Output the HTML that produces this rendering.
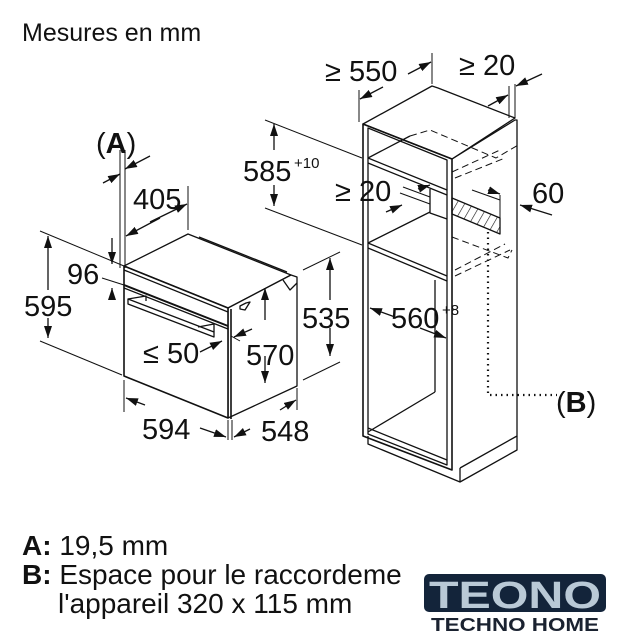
<!DOCTYPE html>
<html><head><meta charset="utf-8"><style>
html,body{margin:0;padding:0;background:#fff;}
svg{display:block;}
text{font-family:"Liberation Sans",Arial,sans-serif;fill:#111;}
</style></head><body>
<svg width="618" height="640" viewBox="0 0 618 640" xmlns="http://www.w3.org/2000/svg">
<defs>
<marker id="a" viewBox="0 0 12 8" refX="12" refY="4" markerWidth="12" markerHeight="8" markerUnits="userSpaceOnUse" orient="auto"><path d="M0,0 L12,4 L0,8 z" fill="#111"/></marker>
<pattern id="h" width="7" height="7" patternUnits="userSpaceOnUse" patternTransform="rotate(30)"><line x1="0" y1="0" x2="0" y2="7" stroke="#111" stroke-width="1.2"/></pattern>
</defs>
<text x="22" y="41" font-size="25">Mesures en mm</text>

<g stroke="#111" fill="none" stroke-width="1.3" stroke-linejoin="round">
<!-- OVEN -->
<path d="M124,266 L188,234 L291,275 L228,308 Z" fill="#fff"/>
<line x1="199" y1="237" x2="287" y2="272"/>
<path d="M228,308 L291,275 L297,277 L297,386 L228,418 Z" fill="#fff"/>
<path d="M283,280 L290,290 L297,283"/>
<path d="M124,266 L228,308 L228,418 L124,376 Z" fill="#fff" stroke-width="1.6"/>
<line x1="231" y1="309" x2="231" y2="419" stroke-width="1.6"/>
<line x1="124" y1="270" x2="228" y2="312"/>
<line x1="124" y1="285" x2="228" y2="326" stroke-width="2"/>
<line x1="124" y1="288" x2="228" y2="329"/>
<path d="M128,299 L214,332 L214,337 L128,304 Z" stroke-width="1.3"/>
<path d="M128,299 L146,296 L146,301"/>
<path d="M198,327 L214,324 L214,332"/>
<path d="M240,306 L246,303 L250,302 L245,310 L240,309 Z"/>

<!-- oven dims -->
<line x1="120" y1="150" x2="120" y2="268" stroke-width="1"/>
<line x1="125" y1="150" x2="125" y2="268" stroke-width="1"/>
<line x1="103" y1="183" x2="120" y2="174" marker-end="url(#a)"/>
<line x1="150" y1="156" x2="125" y2="169" marker-end="url(#a)"/>
<line x1="188" y1="186" x2="188" y2="230" stroke-width="1"/>
<line x1="150" y1="222" x2="187" y2="204" marker-end="url(#a)"/>
<line x1="160" y1="218" x2="126" y2="236" marker-end="url(#a)"/>
<line x1="112" y1="238" x2="112" y2="264" marker-end="url(#a)"/>
<line x1="112" y1="298" x2="112" y2="288" marker-end="url(#a)"/>
<line x1="40" y1="231" x2="124" y2="266" stroke-width="1"/>
<line x1="102" y1="278" x2="124" y2="285" stroke-width="1"/>
<line x1="40" y1="341" x2="122" y2="375" stroke-width="1"/>
<line x1="48" y1="290" x2="48" y2="236" marker-end="url(#a)"/>
<line x1="48" y1="318" x2="48" y2="338" marker-end="url(#a)"/>
<line x1="124" y1="380" x2="124" y2="412" stroke-width="1"/>
<line x1="228" y1="420" x2="228" y2="440" stroke-width="1"/>
<line x1="232" y1="420" x2="232" y2="440" stroke-width="1"/>
<line x1="297" y1="388" x2="297" y2="410" stroke-width="1"/>
<line x1="145" y1="405" x2="126" y2="398" marker-end="url(#a)"/>
<line x1="200" y1="428" x2="226" y2="437" marker-end="url(#a)"/>
<line x1="250" y1="429" x2="234" y2="437" marker-end="url(#a)"/>
<line x1="280" y1="410" x2="296" y2="400" marker-end="url(#a)"/>
<line x1="200" y1="352" x2="222" y2="341" marker-end="url(#a)"/>
<line x1="252" y1="329" x2="234" y2="337" marker-end="url(#a)"/>
<line x1="231" y1="336" x2="240" y2="341" stroke-width="1"/>
<line x1="265" y1="320" x2="265" y2="288" marker-end="url(#a)"/>
<line x1="265" y1="356" x2="265" y2="383" marker-end="url(#a)"/>
<line x1="303" y1="270" x2="340" y2="252" stroke-width="1"/>
<line x1="303" y1="380" x2="340" y2="362" stroke-width="1"/>
<line x1="330" y1="300" x2="330" y2="258" marker-end="url(#a)"/>
<line x1="330" y1="328" x2="330" y2="356" marker-end="url(#a)"/>

<!-- 585 dims -->
<line x1="265" y1="120" x2="362" y2="158" stroke-width="1"/>
<line x1="265" y1="208" x2="362" y2="245" stroke-width="1"/>
<line x1="274" y1="150" x2="274" y2="124" marker-end="url(#a)"/>
<line x1="274" y1="185" x2="274" y2="206" marker-end="url(#a)"/>

<!-- CABINET -->
<path d="M363,124 L432,86 L438,88 L515,118 L452,159 Z" fill="#fff"/>
<path d="M452,159 L515,120 L517,120 L517,436 L460,468"/>
<path d="M363,124 L452,159 L452,470 L363,436 Z" stroke-width="1.6"/>
<path d="M368,128 L447,160 L447,465 L368,434 Z"/>
<line x1="368" y1="158" x2="447" y2="190"/>
<line x1="368" y1="163" x2="447" y2="195"/>
<line x1="368" y1="158" x2="410" y2="136"/>
<path d="M410,136 L430,130 L496,158 L520,144" stroke-dasharray="7,4" stroke-width="1"/>
<path d="M452,172 L500,150 M455,178 L505,158" stroke-dasharray="7,4" stroke-width="1"/>
<line x1="368" y1="243" x2="447" y2="276"/>
<line x1="368" y1="248" x2="447" y2="281"/>
<line x1="368" y1="243" x2="430" y2="212"/>
<path d="M430,189 L430,213 L447,219"/>
<path d="M452,237 L508,258 L512,250 M455,270 L505,244 M455,276 L510,250" stroke-dasharray="7,4" stroke-width="1"/>
<path d="M452,198 L500,218 L500,234 L452,214 Z" fill="url(#h)"/>
<path d="M472,190 L500,200 M500,195 L500,220" stroke-width="1"/>
<line x1="435" y1="280" x2="435" y2="392"/>
<line x1="368" y1="432" x2="435" y2="392"/>
<line x1="368" y1="428" x2="447" y2="460"/>
<path d="M368,436 L368,444 L460,482 L460,468 M460,482 L517,450 L517,436"/>
<line x1="359" y1="90" x2="359" y2="122" stroke-width="1"/>
<line x1="432" y1="53" x2="432" y2="84" stroke-width="1"/>
<line x1="383" y1="87" x2="360" y2="99" marker-end="url(#a)"/>
<line x1="408" y1="74" x2="431" y2="62" marker-end="url(#a)"/>
<line x1="509" y1="86" x2="509" y2="118" stroke-width="1"/>
<line x1="515" y1="84" x2="515" y2="118" stroke-width="1"/>
<line x1="488" y1="106" x2="508" y2="95" marker-end="url(#a)"/>
<line x1="542" y1="74" x2="516" y2="86" marker-end="url(#a)"/>
<line x1="403" y1="187" x2="430" y2="197" stroke-width="1"/>
<line x1="400" y1="193" x2="430" y2="204" stroke-width="1"/>
<line x1="418" y1="189" x2="430" y2="185" marker-end="url(#a)"/>
<line x1="386" y1="212" x2="402" y2="205" marker-end="url(#a)"/>
<line x1="488" y1="190" x2="500" y2="194" marker-end="url(#a)"/>
<line x1="552" y1="215" x2="520" y2="205" marker-end="url(#a)"/>
<line x1="395" y1="317" x2="370" y2="308" marker-end="url(#a)"/>
<line x1="420" y1="328" x2="446" y2="338" marker-end="url(#a)"/>
<path d="M488,232 L488,395 L557,395" stroke-dasharray="1.5,4" stroke-width="2.2"/>
</g>

<g font-size="29">
<text x="96" y="153">(<tspan font-weight="bold">A</tspan>)</text>
<text x="133" y="209">405</text>
<text x="67" y="284">96</text>
<text x="24" y="316">595</text>
<text x="143" y="363">≤ 50</text>
<text x="246" y="365">570</text>
<text x="142" y="439">594</text>
<text x="261" y="441">548</text>
<text x="243" y="181">585</text>
<text x="294" y="168" font-size="15">+10</text>
<text x="325" y="81">≥ 550</text>
<text x="459" y="75">≥ 20</text>
<text x="335" y="201">≥ 20</text>
<text x="532" y="203">60</text>
<text x="302" y="328">535</text>
<text x="391" y="328">560</text>
<text x="442" y="315" font-size="15">+8</text>
<text x="556" y="412">(<tspan font-weight="bold">B</tspan>)</text>
</g>
<g font-size="28">
<text x="22" y="555"><tspan font-weight="bold">A:</tspan> 19,5 mm</text>
<text x="22" y="584"><tspan font-weight="bold">B:</tspan> Espace pour le raccordeme</text>
<text x="58" y="613">l'appareil 320 x 115 mm</text>
</g>
<rect x="424" y="574" width="182" height="38" rx="5" fill="#13243a"/>
<text x="515" y="608" font-size="38" font-weight="bold" text-anchor="middle" textLength="172" lengthAdjust="spacingAndGlyphs" style="fill:#b9c9d6">TEONO</text>
<text x="515" y="631" font-size="18" font-weight="bold" text-anchor="middle" textLength="168" lengthAdjust="spacingAndGlyphs" style="fill:#1a2230">TECHNO HOME</text>
</svg>
</body></html>
